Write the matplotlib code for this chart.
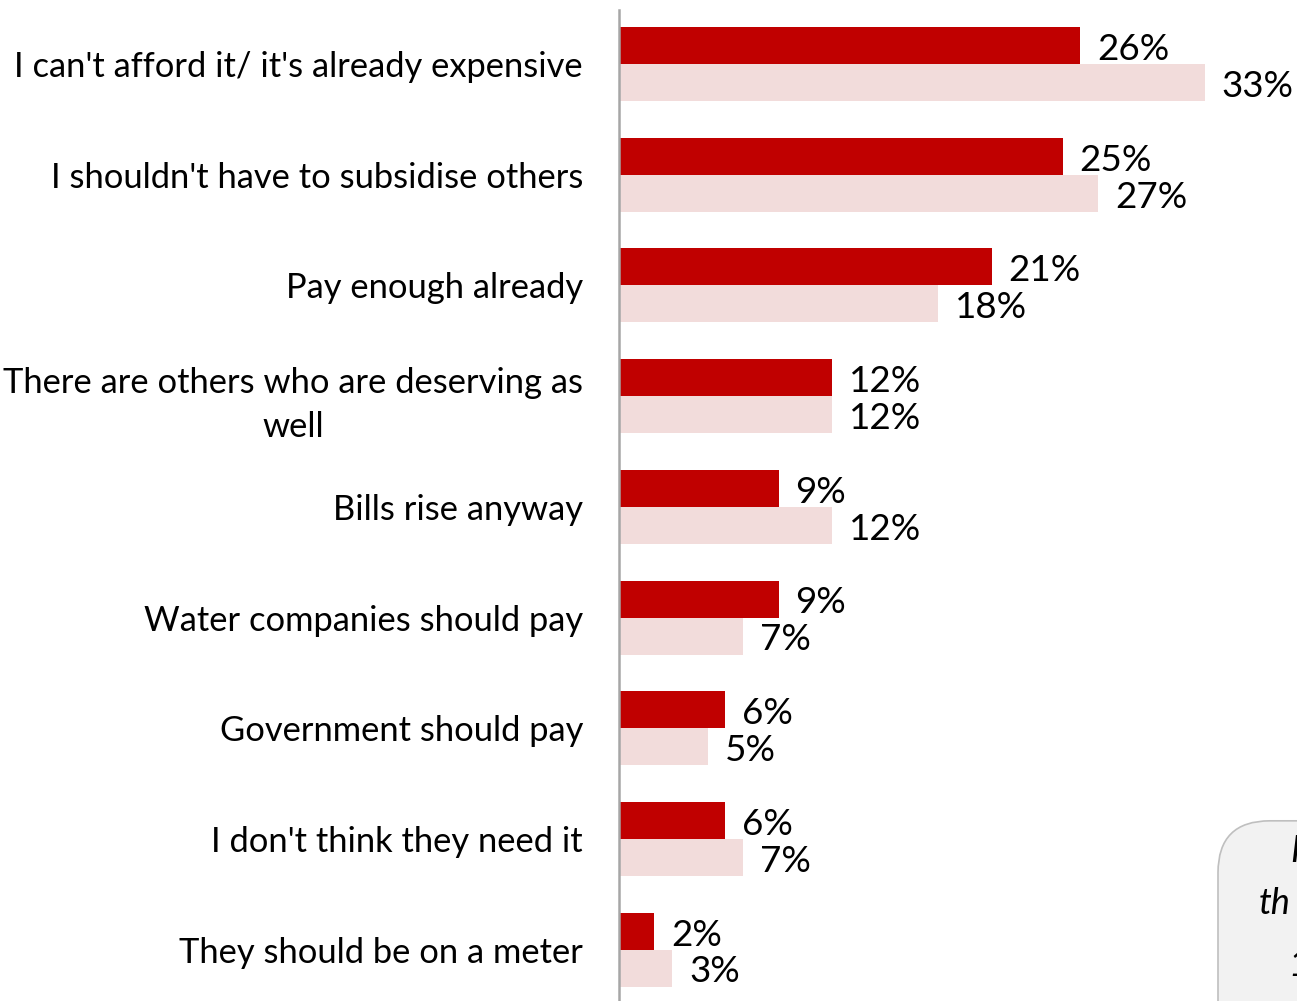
import matplotlib.pyplot as plt
import numpy as np
from matplotlib.patches import FancyBboxPatch

plt.rcParams['font.family'] = ['Lato', 'DejaVu Sans']

reasons = [
    "I can't afford it/ it's already expensive",
    "I shouldn't have to subsidise others",
    "Pay enough already",
    "There are others who are deserving as\nwell",
    "Bills rise anyway",
    "Water companies should pay",
    "Government should pay",
    "I don't think they need it",
    "They should be on a meter",
]
current = [26, 25, 21, 12, 9, 9, 6, 6, 2]
previous = [33, 27, 18, 12, 12, 7, 5, 7, 3]

dark = '#C00000'
light = '#F2DCDB'

fig = plt.figure(figsize=(12.97, 10.01), dpi=100)
ax = fig.add_axes([619 / 1297, 0, 678 / 1297, 991 / 1001])

y = np.arange(len(reasons))
h = 0.334
ax.barh(y - h / 2, current, height=h, color=dark)
ax.barh(y + h / 2, previous, height=h, color=light)

for i in range(len(reasons)):
    ax.text(current[i] + 0.95, y[i] - h / 2 + 0.035, f'{current[i]}%',
            va='center', ha='left', fontsize=26.5)
    ax.text(previous[i] + 0.95, y[i] + h / 2 + 0.035, f'{previous[i]}%',
            va='center', ha='left', fontsize=26.5)

ax.set_xlim(0, 38.2)
ax.set_ylim(8.464, -0.488)
ax.set_yticks(y)
ax.set_yticklabels(reasons, fontsize=24.8, multialignment='center', linespacing=1.45)
ax.tick_params(axis='y', length=0, pad=26)
ax.set_xticks([])
for s in ['top', 'right', 'bottom']:
    ax.spines[s].set_visible(False)
ax.spines['left'].set_color('#A6A6A6')
ax.spines['left'].set_linewidth(1.8)

# note box in the lower right corner, cut off by the figure edge
box = FancyBboxPatch((1218 / 1297, -0.1), 0.3, 0.28,
                     boxstyle='round,pad=0,rounding_size=0.04',
                     transform=fig.transFigure, facecolor='#F2F2F2',
                     edgecolor='#BFBFBF', linewidth=1.2, mutation_aspect=1297 / 1001)
fig.patches.append(box)
fig.text(1290 / 1297, 1 - 852 / 1001, 'I', fontsize=26, style='italic', va='center', ha='left')
fig.text(1259 / 1297, 1 - 903 / 1001, 'th', fontsize=26, style='italic', va='center', ha='left')
fig.text(1288 / 1297, 1 - 965 / 1001, '1', fontsize=26, style='italic', va='center', ha='left')

fig.savefig('out.png', dpi=100)
